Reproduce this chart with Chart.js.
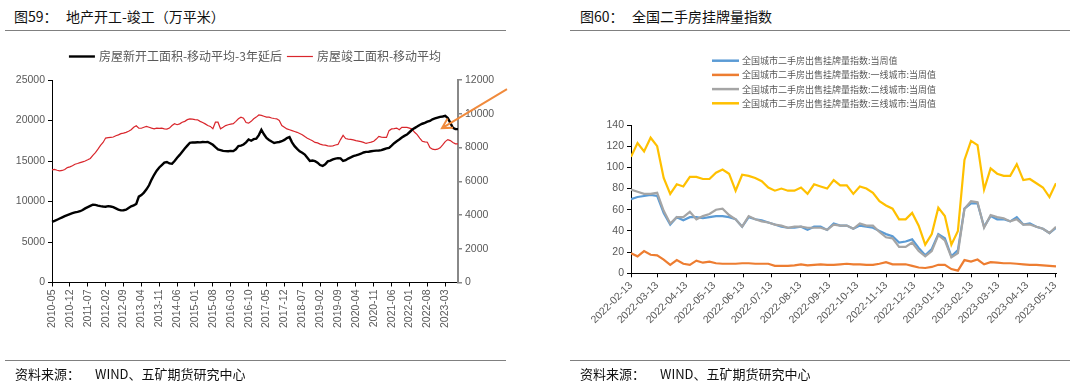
<!DOCTYPE html>
<html>
<head>
<meta charset="utf-8">
<script src="https://cdn.jsdelivr.net/npm/chart.js@4.4.0/dist/chart.umd.min.js"></script>
<style>
  body { margin: 0; width: 1080px; height: 391px; background: #fff; position: relative; overflow: hidden;
         font-family: "Noto Sans CJK SC", "Noto Sans", sans-serif; }
  .t { position: absolute; top: 6px; font-size: 14px; line-height: 20px; color: #111; white-space: pre; }
  .src { position: absolute; top: 365px; font-size: 13px; line-height: 18px; color: #111; white-space: pre; }
  .rule { position: absolute; height: 0; border-top: 1.5px solid #808080; }
  canvas { position: absolute; top: 0; }
</style>
</head>
<body>
<span class="t" style="left:14px">图59：</span>
<span class="t" style="left:66px">地产开工-竣工（万平米）</span>
<div class="rule" style="left:5px;width:501px;top:30px"></div>
<span class="t" style="left:580px">图60：</span>
<span class="t" style="left:632px">全国二手房挂牌量指数</span>
<div class="rule" style="left:570px;width:500px;top:30px"></div>

<canvas id="c1" width="540" height="391" style="left:0"></canvas>
<canvas id="c2" width="540" height="391" style="left:540px"></canvas>

<div class="rule" style="left:5px;width:501px;top:360px"></div>
<span class="src" style="left:15px">资料来源：</span>
<span class="src" style="left:95px">WIND、五矿期货研究中心</span>
<div class="rule" style="left:570px;width:500px;top:360px"></div>
<span class="src" style="left:580px">资料来源：</span>
<span class="src" style="left:660px">WIND、五矿期货研究中心</span>

<script>
// ---------- left chart: monthly, 2010-05 .. 2023-08 ----------
const firstMonth = [2010, 5];
const monthCount = 160;
const months = [];
for (let i = 0; i < monthCount; i++) {
    const m = firstMonth[1] - 1 + i;
    months.push((firstMonth[0] + Math.floor(m / 12)) + '-' + String(m % 12 + 1).padStart(2, '0'));
}
const labelEvery = 7;

// 房屋新开工面积-移动平均-3年延后 (left axis)
const newStartsLag3 = [
    7480, 7600, 7750, 7900, 8050, 8200, 8330, 8450, 8560, 8650,
    8720, 8800, 8950, 9150, 9300, 9450, 9600, 9580, 9500, 9430,
    9380, 9350, 9430, 9380, 9300, 9150, 9000, 8900, 8920, 8990,
    9200, 9400, 9520, 9700, 10600, 10800, 11100, 11500, 12000, 12700,
    13300, 13800, 14200, 14500, 14800, 14880, 14700, 14650, 15000, 15400,
    15750, 16150, 16550, 16900, 17250, 17300, 17280, 17320, 17300, 17350,
    17330, 17350, 17200, 17000, 16700, 16420, 16350, 16250, 16220, 16200,
    16250, 16220, 16450, 16850, 16900, 17040, 17300, 17650, 17500, 17700,
    17750, 18200, 18860, 18300, 17840, 17600, 17400, 17230, 17300, 17350,
    17440, 17600, 17840, 17950, 17300, 16830, 16500, 16200, 16010, 15800,
    15400, 15000, 15050, 14980, 14800, 14500, 14390, 14600, 14950, 15050,
    15200, 15300, 15350, 15330, 15000, 15100, 15300, 15450, 15610, 15700,
    15800, 15900, 16050, 16130, 16150, 16200, 16250, 16280, 16300, 16350,
    16450, 16550, 16620, 16900, 17200, 17440, 17650, 17900, 18100, 18260,
    18550, 18850, 19060, 19250, 19450, 19600, 19700, 19850, 19950, 20150,
    20250, 20350, 20450, 20500, 20570, 20300, 19700, 19100, 18940, 18940
];

// 房屋竣工面积-移动平均 (right axis)
const completions = [
    6670, 6700, 6650, 6615, 6640, 6700, 6810, 6850, 6920, 7010,
    7050, 7100, 7150, 7200, 7270, 7350, 7530, 7700, 7900, 8120,
    8300, 8560, 8580, 8600, 8620, 8700, 8750, 8820, 8850, 8900,
    8960, 9050, 9200, 9290, 9150, 9140, 9200, 9250, 9200, 9150,
    9110, 9150, 9130, 9150, 9100, 9090, 9150, 9300, 9410, 9350,
    9400, 9500, 9550, 9650, 9700, 9680, 9650, 9640, 9550, 9480,
    9400, 9300, 9250, 9110, 9500, 9500, 9110, 9200, 9300, 9350,
    9380, 9410, 9550, 9700, 9800, 9740, 9480, 9440, 9550, 9700,
    9800, 9930, 9900, 9850, 9800, 9800, 9750, 9720, 9700, 9600,
    9300, 9200, 9100, 9050, 9000, 8950, 8900, 8830, 8760, 8650,
    8550, 8470, 8400, 8300, 8270, 8200, 8160, 8140, 8100, 8080,
    8100, 8150, 8180, 8470, 8720, 8530, 8500, 8480, 8450, 8410,
    8380, 8350, 8300, 8240, 8280, 8320, 8370, 8500, 8660, 8620,
    8600, 8600, 9000, 9100, 9120, 9150, 9050, 9190, 9200, 9190,
    9150, 9090, 8900, 8760, 8550, 8370, 8330, 8310, 8000, 7900,
    7880, 7900, 7980, 8150, 8350, 8470, 8410, 8300, 8220, 8210
];

// ---------- right chart: weekly, from 2022-02-13 ----------
const firstWeek = '2022-02-13';
const weekCount = 66;
const monthTicks = ['2022-02-13', '2022-03-13', '2022-04-13', '2022-05-13', '2022-06-13', '2022-07-13',
    '2022-08-13', '2022-09-13', '2022-10-13', '2022-11-13', '2022-12-13', '2023-01-13',
    '2023-02-13', '2023-03-13', '2023-04-13', '2023-05-13'];

const national = [70, 72, 73, 74, 73, 57, 46, 53, 50, 53, 53, 52, 53, 54, 54, 53, 51, 44, 53, 51,
    50, 48, 46, 44, 43, 43, 44, 41, 44, 44, 41, 47, 45, 45, 42, 45, 44, 43, 40, 37,
    35, 29, 30, 32, 24, 17, 23, 37, 33, 16, 22, 61, 66, 66, 44, 54, 51, 51, 49, 53,
    46, 47, 44, 42, 38, 43];
const tier1 = [19, 16, 21, 17.5, 17, 13, 8, 12.5, 9, 8, 12, 10, 11, 9.5, 9, 9, 9, 9.5, 9.5, 9,
    9, 9, 7, 7, 7, 7.5, 8.5, 7.5, 8, 8.5, 8, 8, 8.5, 9, 8.5, 8.5, 8, 8, 9, 10.5,
    8.5, 8.5, 8.5, 7, 5.5, 5, 6, 8, 8, 4, 2.5, 12.5, 11, 13, 8.5, 10.5, 10, 9.5, 9.5, 9,
    8.5, 8, 8, 7.5, 7, 6.5];
const tier2 = [79, 77, 75, 75, 76, 59, 47, 53, 53, 58, 51, 54, 56, 60, 61, 55, 51, 44, 54, 51,
    49, 48, 46, 45, 43, 44, 44, 43, 43, 43, 41, 46, 45, 45, 42, 47, 45, 45, 39, 34,
    33, 25, 25, 29, 21, 16, 21, 36, 31, 15, 19, 61, 68, 67, 43, 55, 53, 52, 49, 51,
    46, 46, 44, 42, 38, 44];
const tier3 = [110, 123, 115, 128, 120, 90, 75, 84, 82, 91, 91, 89, 89, 95, 98, 94, 78, 93, 92, 90,
    87, 81, 78, 80, 78, 78, 81, 75, 84, 82, 80, 88, 83, 83, 75, 82, 80, 76, 68, 64,
    61, 51, 51, 57, 45, 27, 37, 62, 54, 27, 40, 107, 125, 121, 79, 99, 94, 92, 92, 103,
    88, 89, 85, 81, 72, 85];

const DAY = 86400000;
function dayOf(s) {
    const p = s.split('-').map(Number);
    return Math.round((Date.UTC(p[0], p[1] - 1, p[2]) - Date.UTC(2022, 1, 13)) / DAY);
}
const weekDays = [];
for (let i = 0; i < weekCount; i++) weekDays.push(dayOf(firstWeek) + i * 7);
const asPoints = arr => arr.map((v, i) => ({ x: weekDays[i], y: v }));

// legend drawn as short line + label
const lineLegend = {
    id: 'lineLegend',
    afterDraw(chart, args, o) {
        const ctx = chart.ctx;
        const sets = chart.data.datasets;
        ctx.save();
        ctx.font = o.font;
        ctx.textBaseline = 'middle';
        ctx.lineCap = 'butt';
        const drawItem = (ds, x, y) => {
            ctx.strokeStyle = ds.borderColor;
            ctx.lineWidth = o.lineWidth || ds.borderWidth;
            ctx.beginPath();
            ctx.moveTo(x, y);
            ctx.lineTo(x + o.lineLen, y);
            ctx.stroke();
            ctx.fillStyle = o.color;
            ctx.fillText(ds.label, x + o.lineLen + o.gap, y);
        };
        if (o.rows) {
            sets.forEach((ds, k) => drawItem(ds, o.x, o.y + k * o.rowGap));
        } else {
            const widths = sets.map(ds => o.lineLen + o.gap + ctx.measureText(ds.label).width);
            const total = widths.reduce((a, b) => a + b, 0) + o.itemGap * (sets.length - 1);
            let x = (chart.chartArea.left + chart.chartArea.right) / 2 - total / 2;
            sets.forEach((ds, k) => { drawItem(ds, x, o.y); x += widths[k] + o.itemGap; });
        }
        ctx.restore();
    }
};

// orange arrow pointing at the end of the black line
const arrowNote = {
    id: 'arrowNote',
    afterDraw(chart, args, o) {
        const last = newStartsLag3.length - 1;
        const tx = chart.scales.x.getPixelForValue(last) + o.dx;
        const ty = chart.scales.yL.getPixelForValue(newStartsLag3[last]) + o.dy;
        const sx = tx + o.tailDx, sy = ty + o.tailDy;
        const ang = Math.atan2(sy - ty, sx - tx);
        const ctx = chart.ctx;
        ctx.save();
        ctx.strokeStyle = o.color;
        ctx.lineWidth = 2;
        ctx.beginPath();
        ctx.moveTo(sx, sy);
        ctx.lineTo(tx, ty);
        ctx.moveTo(tx + o.head * Math.cos(ang - 0.5), ty + o.head * Math.sin(ang - 0.5));
        ctx.lineTo(tx, ty);
        ctx.lineTo(tx + o.head * Math.cos(ang + 0.5), ty + o.head * Math.sin(ang + 0.5));
        ctx.stroke();
        ctx.restore();
    }
};

const tickFont = { family: 'Liberation Sans', size: 10.5 };
const tickColor = '#595959';
const plainNumber = v => String(v);

new Chart(document.getElementById('c1'), {
    type: 'line',
    data: {
        labels: months,
        datasets: [
            { label: '房屋新开工面积-移动平均-3年延后', data: newStartsLag3, borderColor: '#000000', borderWidth: 2.4, yAxisID: 'yL' },
            { label: '房屋竣工面积-移动平均', data: completions, borderColor: '#D9262C', borderWidth: 1.2, yAxisID: 'yR' }
        ]
    },
    options: {
        responsive: false,
        animation: false,
        elements: { point: { radius: 0 }, line: { tension: 0 } },
        layout: { padding: { top: 80, left: 0, right: 0, bottom: 0 } },
        plugins: {
            legend: { display: false },
            tooltip: { enabled: false },
            lineLegend: { font: '12px "Noto Sans CJK SC"', color: '#595959', y: 56.5, lineLen: 26, gap: 4, itemGap: 5 },
            arrowNote: { color: '#F08A3C', dx: -16, dy: -1, tailDx: 65, tailDy: -39, head: 11 }
        },
        scales: {
            x: {
                type: 'category',
                offset: false,
                afterBuildTicks: s => { s.ticks = s.ticks.filter(t => t.value % labelEvery === 0); },
                afterFit: s => { s.height = 108.5; },
                grid: { drawOnChartArea: false, drawTicks: true, tickLength: 4, color: '#000' },
                border: { display: true, color: '#000', width: 1 },
                ticks: { autoSkip: false, minRotation: 90, maxRotation: 90, padding: 3, color: tickColor, font: tickFont }
            },
            yL: {
                position: 'left',
                min: 0, max: 25000,
                afterFit: s => { s.width = 52; },
                grid: { drawOnChartArea: false, drawTicks: true, tickLength: 4, color: '#000' },
                border: { display: true, color: '#000', width: 1 },
                ticks: { stepSize: 5000, padding: 3, color: tickColor, font: tickFont, callback: plainNumber }
            },
            yR: {
                position: 'right',
                min: 0, max: 12000,
                afterFit: s => { s.width = 82; },
                grid: { drawOnChartArea: false, drawTicks: true, tickLength: 4, color: '#888', lineWidth: 1.5 },
                border: { display: true, color: '#888', width: 2 },
                ticks: { stepSize: 2000, padding: 3, color: tickColor, font: tickFont, callback: plainNumber }
            }
        }
    },
    plugins: [lineLegend, arrowNote]
});

const seriesNames = ['全国城市二手房出售挂牌量指数:当周值', '全国城市二手房出售挂牌量指数:一线城市:当周值',
    '全国城市二手房出售挂牌量指数:二线城市:当周值', '全国城市二手房出售挂牌量指数:三线城市:当周值'];
const seriesColors = ['#5B9BD5', '#ED7D31', '#A5A5A5', '#FFC000'];
const seriesData = [national, tier1, tier2, tier3];

new Chart(document.getElementById('c2'), {
    type: 'line',
    data: {
        datasets: seriesData.map((d, i) => ({
            label: seriesNames[i], data: asPoints(d), borderColor: seriesColors[i], borderWidth: 2.2, order: 3 - i
        }))
    },
    options: {
        responsive: false,
        animation: false,
        elements: { point: { radius: 0 }, line: { tension: 0 } },
        layout: { padding: { top: 125, left: 0, right: 24, bottom: 0 } },
        plugins: {
            legend: { display: false },
            tooltip: { enabled: false },
            lineLegend: { rows: true, font: '9px "Noto Sans CJK SC"', color: '#595959', x: 172, y: 60.7, rowGap: 14.2, lineLen: 27, gap: 3, lineWidth: 2.5 }
        },
        scales: {
            x: {
                type: 'linear',
                min: weekDays[0], max: weekDays[weekDays.length - 1],
                afterBuildTicks: s => { s.ticks = monthTicks.map(d => ({ value: dayOf(d) })); },
                afterFit: s => { s.height = 117.7; },
                grid: { drawOnChartArea: false, drawTicks: true, tickLength: 4, color: '#000' },
                border: { display: true, color: '#000', width: 1 },
                ticks: { autoSkip: false, minRotation: 45, maxRotation: 45, padding: 2, color: tickColor, font: tickFont,
                         callback: (v, i) => monthTicks[i] }
            },
            y: {
                min: 0, max: 140,
                afterFit: s => { s.width = 91; },
                grid: { drawOnChartArea: false, drawTicks: true, tickLength: 4, color: '#000' },
                border: { display: true, color: '#000', width: 1 },
                ticks: { stepSize: 20, padding: 3, color: tickColor, font: tickFont, callback: plainNumber }
            }
        }
    },
    plugins: [lineLegend]
});
</script>
</body>
</html>
